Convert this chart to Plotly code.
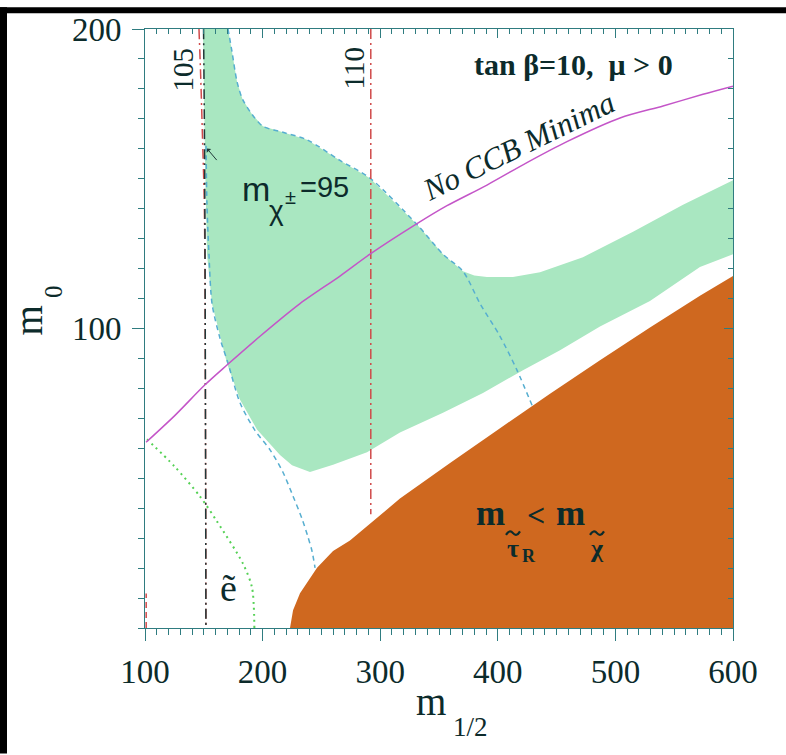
import plotly.graph_objects as go

# ---------------- data ----------------
# stau-LSP excluded region (upper boundary), closed along x=600 and y=0
stau_x = [223.3, 225.9, 231.8, 246.3, 259.9, 274.3, 316.8, 359.4, 401.9, 444.4, 486.9,
          529.4, 571.9, 600.0]
stau_y = [0, 5.9, 11.6, 20.1, 25.7, 29.2, 43.2, 55.1, 66.7, 78.2, 89.4,
          100.3, 110.9, 117.5]

# cosmologically preferred (green) region outline
green_x = [149.3, 170.6, 174.0, 178.2, 183.0, 191.0, 200.3, 217.3, 237.8, 265.8, 291.3,
           331.3, 353.4, 370.4, 380.0, 390.8, 412.9, 435.9, 472.4, 515.0, 557.5, 600.0,
           600.0, 571.9, 529.4, 486.9, 452.9, 421.4, 387.4, 353.4, 316.8, 288.8, 259.9,
           240.3, 225.0, 214.8, 195.2, 180.8, 169.7, 157.0, 152.7, 151.0, 149.3]
green_y = [200, 200, 192.4, 182.5, 176.5, 171.5, 167.5, 165.5, 163.0, 156.1, 150.2,
           134.7, 124.8, 119.1, 117.7, 117.2, 117.2, 118.8, 123.8, 132.3, 141.3, 149.5,
           124.8, 120.5, 109.2, 100.7, 92.7, 86.1, 78.5, 71.9, 65.3, 58.7, 54.5,
           52.1, 54.3, 57.8, 66.3, 76.2, 88.4, 108.3, 124.8, 157.8, 200]

# blue dashed contour, upper branch
dashA_x = [170.6, 174.0, 178.2, 183.0, 191.0, 200.3, 217.3, 237.8, 265.8, 291.3, 331.3,
           353.4, 370.4, 384.9, 401.9, 416.3, 429.9]
dashA_y = [200, 192.4, 182.5, 176.5, 171.5, 167.5, 165.5, 163.0, 156.1, 150.2, 134.7,
           124.8, 119.1, 108.3, 97.4, 86.1, 73.6]
# blue dashed contour, lower branch
dashB_x = [151.9, 152.7, 154.4, 157.0, 163.8, 170.6, 180.8, 193.5, 206.3, 217.3, 225.9,
           233.5, 238.5, 242.0, 244.6]
dashB_y = [161, 141.3, 124.8, 108.3, 96.7, 88.4, 75.2, 66.0, 59.5, 52.0, 44.0,
           36.5, 30.5, 25.7, 20.1]

# No CCB minima line
ccb_x = [100.9, 125.5, 151.0, 169.7, 197.8, 231.8, 265.8, 291.3, 331.3, 356.8, 390.8,
         424.8, 458.8, 503.9, 540.5, 574.5, 600.0]
ccb_y = [62.0, 71.0, 81.2, 87.8, 97.4, 108.3, 117.5, 124.8, 135.0, 141.0, 147.9,
         155.4, 162.4, 170.3, 174.3, 178.2, 180.9]

# selectron limit (dotted green)
sel_x = [101.7, 125.0, 146.8, 161.2, 183.3, 191.0, 193.0]
sel_y = [63.0, 54.0, 43.9, 35.6, 21.5, 13.5, 0.0]

# chargino limit (black dash-dot)
cha_x = [149.8, 150.8, 151.5, 151.8]
cha_y = [200, 150, 60, 0]

# Higgs mass contours (red dash-dot)
h105_x = [145.9, 147.3, 148.8, 150.5, 151.5, 151.8]
h105_y = [200, 185, 165, 140, 60, 0]
h110_x = [292.0, 292.0]
h110_y = [200, 38]
edge_x = [101.0, 101.0]
edge_y = [0, 11.5]

x_ticks = [100, 200, 300, 400, 500, 600]
y_ticks = [100, 200]

# ---------------- figure ----------------
W, H = 786, 755
L, R, T, B = 145, 733, 22, 628
AX = "#2f7c80"
TXT = "#0c2b2b"
SERIF = "Liberation Serif"
SANS = "Liberation Sans"

def pp(px, py):
    return (px - L) / (R - L), (B - py) / (B - T)

fig = go.Figure()

fig.add_trace(go.Scatter(x=green_x, y=green_y, fill="toself", fillcolor="#a9e7c1",
                         mode="none", hoverinfo="skip", showlegend=False))
sx = stau_x + [600, stau_x[0]]
sy = stau_y + [0, 0]
fig.add_trace(go.Scatter(x=sx, y=sy, fill="toself", fillcolor="#cf681f",
                         mode="none", hoverinfo="skip", showlegend=False))

def line(x, y, color, dash, width=1.5, shape="spline"):
    fig.add_trace(go.Scatter(x=x, y=y, mode="lines", hoverinfo="skip", showlegend=False,
                             line=dict(color=color, dash=dash, width=width, shape=shape,
                                       smoothing=0.8)))

line(dashA_x, dashA_y, "#56aed0", "5px,4px")
line(dashB_x, dashB_y, "#56aed0", "5px,4px")
line(sel_x, sel_y, "#55d155", "2px,4px", 2)
line(h105_x, h105_y, "#d04a4a", "10px,4px,2px,4px")
line(h110_x, h110_y, "#d04a4a", "10px,4px,2px,4px", shape="linear")
line(edge_x, edge_y, "#d04a4a", "6px,4px", shape="linear")
line(cha_x, cha_y, "#203838", "10px,4px,2px,4px")
line(ccb_x, ccb_y, "#c455c8", "solid", 1.5)

# invisible trace for mirrored (inward tick) axes
fig.add_trace(go.Scatter(x=[100], y=[0], xaxis="x2", yaxis="y2", mode="markers",
                         marker=dict(opacity=0), hoverinfo="skip", showlegend=False))

fig.update_layout(
    width=W, height=H, margin=dict(l=L, r=W - R, t=T, b=H - B),
    paper_bgcolor="white", plot_bgcolor="white",
    xaxis=dict(range=[100, 600], tickvals=x_ticks, ticks="outside", ticklen=12,
               tickcolor=AX, tickwidth=1, showline=True, linecolor=AX, linewidth=1,
               mirror=True, showgrid=False, zeroline=False, ticklabelstandoff=2,
               tickfont=dict(family=SERIF, size=33, color=TXT),
               minor=dict(dtick=10, tick0=100, ticks="outside", ticklen=6, tickcolor=AX)),
    yaxis=dict(range=[0, 200], tickvals=y_ticks, ticks="outside", ticklen=12,
               tickcolor=AX, tickwidth=1, showline=True, linecolor=AX, linewidth=1,
               mirror=True, showgrid=False, zeroline=False, ticklabelstandoff=4,
               tickfont=dict(family=SERIF, size=33, color=TXT),
               minor=dict(dtick=10, tick0=0, ticks="outside", ticklen=6, tickcolor=AX)),
    xaxis2=dict(range=[100, 600], overlaying="x", side="top", anchor="y2",
                tickvals=x_ticks, ticks="inside", ticklen=9, tickcolor=AX,
                showticklabels=False, showgrid=False, zeroline=False, showline=False,
                minor=dict(dtick=10, tick0=100, ticks="inside", ticklen=5, tickcolor=AX)),
    yaxis2=dict(range=[0, 200], overlaying="y", side="right", anchor="x2",
                tickvals=[0, 100, 200], ticks="inside", ticklen=9, tickcolor=AX,
                showticklabels=False, showgrid=False, zeroline=False, showline=False,
                minor=dict(dtick=10, tick0=0, ticks="inside", ticklen=5, tickcolor=AX)),
)

def ann(text, px, py, size, family=SERIF, angle=0, color=TXT):
    x, y = pp(px, py)
    fig.add_annotation(text=text, x=x, y=y, xref="paper", yref="paper", showarrow=False,
                       xanchor="center", yanchor="middle", textangle=angle,
                       font=dict(family=family, size=size, color=color))

ann("<b>tan β=10,\u00a0 μ > 0</b>", 573, 58, 30)
ann("<i>No CCB Minima</i>", 518, 141, 31, angle=-26)
ann("m", 256, 184, 34, SANS)
ann("χ", 276, 206, 28, SANS)
ann("±", 290, 192, 20, SANS)
ann("=95", 324, 182, 29, SANS)
ann("<b>m</b>", 490, 512, 35)
ann("<b>τ</b>", 513, 548, 26)
ann("<b>R</b>", 529, 555, 18)
ann("<b><</b>", 536, 514, 32)
ann("<b>m</b>", 570, 512, 35)
ann("<b>χ</b>", 597, 548, 26)
ann("ẽ", 228, 588, 38)
ann("105", 183, 63, 29, angle=-90)
ann("110", 354, 62, 29, angle=-90)
ann("m", 431, 702, 39)
ann("1/2", 470, 728, 27)
ann("m", 29, 317, 39, angle=-90)
ann("0", 54, 288, 25, angle=-90)

# tildes over tau and chi drawn as small curves
def tilde(cx, cy, w=14, h=3.5):
    pts = [(cx - w / 2, cy + h / 2), (cx - w / 4, cy - h * 1.2), (cx, cy),
           (cx + w / 4, cy + h * 1.2), (cx + w / 2, cy - h / 2)]
    q = [pp(a, b) for a, b in pts]
    path = "M {},{} Q {},{} {},{} Q {},{} {},{}".format(
        q[0][0], q[0][1], q[1][0], q[1][1], q[2][0], q[2][1],
        q[3][0], q[3][1], q[4][0], q[4][1])
    fig.add_shape(type="path", path=path, xref="paper", yref="paper",
                  line=dict(color=TXT, width=2.2), layer="above")

tilde(513, 532)
tilde(597, 532)

# small arrow head near the lower contour branch
hx, hy = pp(207, 143)
fig.add_annotation(x=hx, y=hy, xref="paper", yref="paper", ax=11, ay=13,
                   axref="pixel", ayref="pixel", showarrow=True, arrowhead=1,
                   arrowsize=1, arrowwidth=1, arrowcolor="#203838", text="")

# black border strips of the reference scan
for (x0, y0, x1, y1) in [(0, 0, 7, H), (0, 0, W, 6)]:
    a0, b0 = pp(x0, y0)
    a1, b1 = pp(x1, y1)
    fig.add_shape(type="rect", xref="paper", yref="paper", x0=a0, y0=b0, x1=a1, y1=b1,
                  fillcolor="black", line=dict(width=0), layer="above")

fig.write_html("out.html")
